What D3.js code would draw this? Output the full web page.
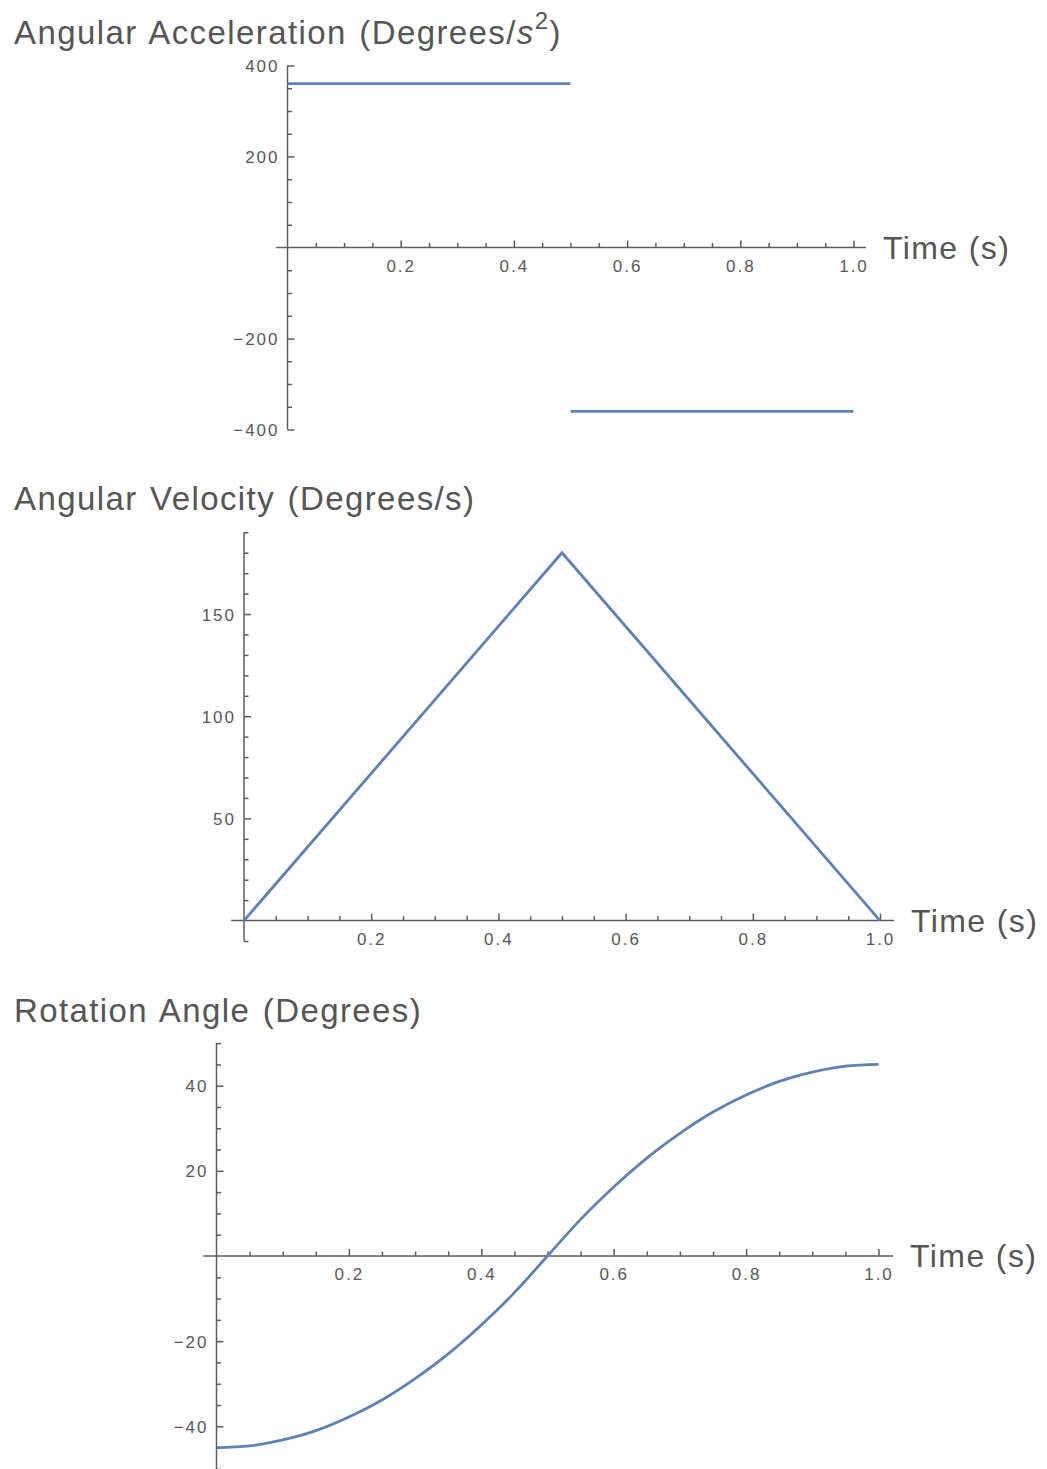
<!DOCTYPE html>
<html>
<head>
<meta charset="utf-8">
<script src="https://cdn.jsdelivr.net/npm/d3@7"></script>
<style>
body { margin: 0; background: #fff; }
text { font-family: "Liberation Sans", Arial, sans-serif; }
</style>
</head>
<body>
<script>
// angular acceleration, two constant pieces
var accelStart = [0, 0.5]
var accelEnd = [0.5, 1.0]
var accelValue = [360, -360]

// angular velocity (triangle)
var velTime = [0, 0.5, 1.0]
var velValue = [0, 180, 0]

// rotation angle, read every 0.05 s
var angleTime = [0, 0.05, 0.1, 0.15, 0.2, 0.25, 0.3, 0.35, 0.4, 0.45, 0.5,
                 0.55, 0.6, 0.65, 0.7, 0.75, 0.8, 0.85, 0.9, 0.95, 1.0]
var angleValue = [-45, -44.6, -43.2, -41, -37.8, -33.8, -28.8, -23, -16.2, -8.6, 0,
                  8.6, 16.2, 23, 28.8, 33.8, 37.8, 41, 43.2, 44.6, 45]

// ticks
var timeTicks = [0.2, 0.4, 0.6, 0.8, 1.0]
var accelTicks = [-400, -200, 200, 400]
var velTicks = [50, 100, 150]
var angleTicks = [-40, -20, 20, 40]

var W = 1047, H = 1469
var lineColor = "#5e81b5"
var axisColor = "#5c5c5c"
var textColor = "#555"

var svg = d3.select("body").append("svg")
	.attr("width", W)
	.attr("height", H)

// one panel per quantity
var panels = [
	{ title: "accel", titleY: 43.5, xr: [287.5, 853.5], yd: [-400, 400], yr: [429.5, 65.5],
	  yMajor: accelTicks, yMinorStep: 50 },
	{ title: "Angular Velocity (Degrees/s)", titleY: 509.5, xr: [244, 880], yd: [-10, 190], yr: [941, 532.3],
	  yMajor: velTicks, yMinorStep: 10 },
	{ title: "Rotation Angle (Degrees)", titleY: 1021.7, xr: [216.5, 878.5], yd: [-50, 50], yr: [1468.9, 1043.1],
	  yMajor: angleTicks, yMinorStep: 5 }
]

var line = d3.line().x(d => d[0]).y(d => d[1])

panels.forEach(function(p, i) {
	var x = d3.scaleLinear().domain([0, 1]).range(p.xr)
	var y = d3.scaleLinear().domain(p.yd).range(p.yr)
	var g = svg.append("g")
	p.x = x; p.y = y; p.g = g

	// title
	var t = g.append("text")
		.attr("x", 14)
		.attr("y", p.titleY)
		.attr("fill", textColor)
		.style("font-size", "33px")
		.style("letter-spacing", "1.4px")
		.style("word-spacing", "2px")
	if (p.title == "accel") {
		t.append("tspan").text("Angular Acceleration (Degrees/")
		t.append("tspan").style("font-style", "italic").text("s")
		t.append("tspan").attr("dy", -15).style("font-size", "24px").text("2")
		t.append("tspan").attr("dy", 15).text(")")
	} else {
		t.text(p.title)
	}

	// axis lines
	var y0 = y(0), xa = x(0)
	g.append("line")
		.attr("x1", x(-0.02)).attr("x2", x(1.022))
		.attr("y1", y0).attr("y2", y0)
		.attr("stroke", axisColor).attr("stroke-width", 1.5)
	g.append("line")
		.attr("x1", xa).attr("x2", xa)
		.attr("y1", y(p.yd[0])).attr("y2", y(p.yd[1]))
		.attr("stroke", axisColor).attr("stroke-width", 1.5)

	// x ticks
	var xMinor = d3.range(1, 21).map(k => k * 0.05).filter(v => Math.abs(v * 5 - Math.round(v * 5)) > 1e-6)
	g.append("g")
		.attr("transform", "translate(0," + y0 + ")")
		.call(d3.axisBottom(x).tickValues(xMinor).tickSize(-4.5).tickSizeOuter(0).tickFormat(""))
		.call(a => a.select(".domain").remove())
		.attr("color", axisColor)
	var xa1 = g.append("g")
		.attr("transform", "translate(0," + y0 + ")")
		.call(d3.axisBottom(x).tickValues(timeTicks).tickSize(-7).tickSizeOuter(0).tickPadding(12).tickFormat(d3.format(".1f")))
		.call(a => a.select(".domain").remove())
		.attr("color", axisColor)

	// y ticks
	var yMinor = d3.range(p.yd[0], p.yd[1] + 0.001, p.yMinorStep).filter(v => v != 0 && p.yMajor.indexOf(v) < 0)
	g.append("g")
		.attr("transform", "translate(" + xa + ",0)")
		.call(d3.axisLeft(y).tickValues(yMinor).tickSize(-4.5).tickSizeOuter(0).tickFormat(""))
		.call(a => a.select(".domain").remove())
		.attr("color", axisColor)
	var ya1 = g.append("g")
		.attr("transform", "translate(" + xa + ",0)")
		.call(d3.axisLeft(y).tickValues(p.yMajor).tickSize(-7).tickSizeOuter(0).tickPadding(8).tickFormat(d3.format("d")))
		.call(a => a.select(".domain").remove())
		.attr("color", axisColor)

	g.selectAll(".tick line").attr("stroke-width", 1.5)
	g.selectAll(".tick text")
		.attr("fill", "#585858")
		.style("font-size", "17px")
		.style("letter-spacing", "2px")
		.style("font-family", "'Liberation Sans', Arial, sans-serif")
	ya1.selectAll("text").attr("dy", "0.36em")

	// Time label
	g.append("text")
		.attr("x", x(1.022) + 17)
		.attr("y", y0 + 11)
		.attr("fill", textColor)
		.style("font-size", "32px")
		.style("letter-spacing", "1.4px")
		.text("Time (s)")
})

// acceleration pieces
var pa = panels[0]
accelValue.forEach(function(v, i) {
	pa.g.append("path")
		.attr("d", line([[pa.x(accelStart[i]), pa.y(v)], [pa.x(accelEnd[i]), pa.y(v)]]))
		.attr("fill", "none")
		.attr("stroke", lineColor)
		.attr("stroke-width", 2.8)
})

// velocity
var pv = panels[1]
pv.g.append("path")
	.attr("d", line(velTime.map((t, i) => [pv.x(t), pv.y(velValue[i])])))
	.attr("fill", "none")
	.attr("stroke", lineColor)
	.attr("stroke-width", 2.8)

// angle
var pr = panels[2]
pr.g.append("path")
	.attr("d", d3.line().curve(d3.curveMonotoneX)(angleTime.map((t, i) => [pr.x(t), pr.y(angleValue[i])])))
	.attr("fill", "none")
	.attr("stroke", lineColor)
	.attr("stroke-width", 2.8)
</script>
</body>
</html>
